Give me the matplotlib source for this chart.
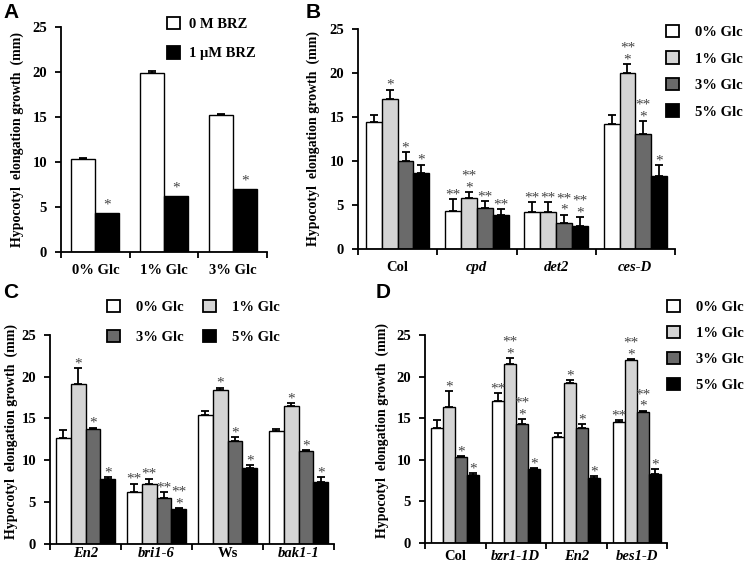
import numpy as np
import matplotlib
matplotlib.use("Agg")
import matplotlib.pyplot as plt
import matplotlib.transforms as mtransforms
from matplotlib.patches import Patch

# ------------------------------------------------------------
# DATA
# ------------------------------------------------------------

# Panel A: BRZ treatment
a_groups = ["0% Glc", "1% Glc", "3% Glc"]
a_no_brz = [10.3, 19.9, 15.2]
a_no_brz_err = [0.1, 0.25, 0.15]
a_brz = [4.3, 6.2, 7.0]
a_brz_err = [0.05, 0.05, 0.05]
a_brz_stars = ["*", "*", "*"]

glc_labels = ["0% Glc", "1% Glc", "3% Glc", "5% Glc"]

# Panel B
b_groups = ["Col", "cpd", "det2", "ces-D"]
b_italic = [False, True, True, True]
b_vals = [
    [14.4, 4.35, 4.25, 14.15],
    [17.0, 5.8, 4.25, 19.95],
    [10.0, 4.65, 2.9, 13.1],
    [8.6, 3.9, 2.6, 8.35],
]
b_errs = [
    [0.8, 1.3, 1.05, 1.1],
    [1.1, 0.7, 1.05, 1.1],
    [1.0, 0.75, 1.0, 1.45],
    [1.0, 0.6, 1.0, 1.2],
]
b_stars = [
    ["", "**", "**", ""],
    ["*", "**\n*", "**", "**\n*"],
    ["*", "**", "**\n*", "**\n*"],
    ["*", "**", "**\n*", "*"],
]

# Panel C
c_groups = ["En2", "bri1-6", "Ws", "bak1-1"]
c_italic = [True, True, False, True]
c_vals = [
    [12.7, 6.2, 15.45, 13.45],
    [19.15, 7.1, 18.4, 16.5],
    [13.75, 5.5, 12.3, 11.1],
    [7.75, 4.2, 9.1, 7.35],
]
c_errs = [
    [0.95, 1.0, 0.5, 0.25],
    [1.9, 0.7, 0.3, 0.3],
    [0.15, 0.65, 0.5, 0.15],
    [0.2, 0.1, 0.3, 0.6],
]
c_stars = [
    ["", "**", "", ""],
    ["*", "**", "*", "*"],
    ["*", "**", "*", "*"],
    ["*", "**\n*", "*", "*"],
]

# Panel D
d_groups = ["Col", "bzr1-1D", "En2", "bes1-D"]
d_italic = [False, True, True, True]
d_vals = [
    [13.8, 17.1, 12.7, 14.5],
    [16.3, 21.5, 19.2, 21.95],
    [10.3, 14.25, 13.8, 15.75],
    [8.15, 8.9, 7.75, 8.3],
]
d_errs = [
    [0.95, 0.9, 0.45, 0.3],
    [1.9, 0.7, 0.4, 0.15],
    [0.15, 0.65, 0.5, 0.15],
    [0.2, 0.1, 0.3, 0.55],
]
d_stars = [
    ["", "**", "", "**"],
    ["*", "**\n*", "*", "**\n*"],
    ["*", "**\n*", "*", "**\n*"],
    ["*", "*", "*", "*"],
]

# ------------------------------------------------------------
# STYLE
# ------------------------------------------------------------
SERIF = "Liberation Serif"
FS = 10.5
glc_colors = ["white", "#d4d4d4", "#6a6a6a", "black"]
star_color = "#444444"

plt.rcParams["font.family"] = SERIF
plt.rcParams["font.weight"] = "bold"

fig = plt.figure(figsize=(7.44, 5.67), dpi=100)
W, H = 744, 567


def px_axes(x0, y0, x1, y1):
    return fig.add_axes([x0 / W, 1 - y1 / H, (x1 - x0) / W, (y1 - y0) / H])


def style_axes(ax, groups, italic, label_x, label_y, xpad):
    n = len(groups)
    ax.set_xlim(0, n)
    ax.set_ylim(0, 25)
    ax.set_yticks(range(0, 26, 5))
    for s in ["top", "right"]:
        ax.spines[s].set_visible(False)
    for s in ["left", "bottom"]:
        ax.spines[s].set_linewidth(1.3)
    ax.tick_params(axis="y", direction="out", length=4, width=1.3,
                   labelsize=FS, pad=6)
    # group labels at centres, tick marks at boundaries
    ax.set_xticks(np.arange(n) + 0.5)
    ax.set_xticklabels(groups, fontsize=FS, fontweight="bold")
    for lab, it in zip(ax.get_xticklabels(), italic):
        if it:
            lab.set_fontstyle("italic")
    ax.tick_params(axis="x", which="major", length=0, pad=xpad)
    ax.set_xticks(np.arange(n + 1), minor=True)
    ax.tick_params(axis="x", which="minor", direction="out", length=4, width=1.3)
    for lab in ax.get_yticklabels():
        lab.set_fontweight("bold")
    ax.set_ylabel("Hypocotyl  elongation growth  (mm)", fontsize=10,
                  fontweight="bold")
    tr = mtransforms.blended_transform_factory(fig.transFigure, ax.transAxes)
    ax.yaxis.set_label_coords(label_x / W, label_y, transform=tr)


def add_stars(ax, x, top, label, base=0.5):
    rows = label.split("\n")
    for i, row in enumerate(reversed(rows)):
        ax.annotate(row, (x, top), xytext=(0, base + i * 8.5),
                    textcoords="offset points", ha="center", va="baseline",
                    fontsize=11, color=star_color, fontweight="normal")


def grouped_panel(ax, vals, errs, stars, width):
    n_series = len(vals)
    n_groups = len(vals[0])
    centers = np.arange(n_groups) + 0.5
    for k in range(n_series):
        x = centers + (k - (n_series - 1) / 2) * width
        ax.bar(x, vals[k], width, color=glc_colors[k], edgecolor="black",
               linewidth=1.0, zorder=2)
        ax.errorbar(x, vals[k], yerr=[np.zeros(n_groups), errs[k]], fmt="none",
                    ecolor="black", elinewidth=1.3, capsize=3, capthick=1.3,
                    zorder=1)
        for xi, v, e, s in zip(x, vals[k], errs[k], stars[k]):
            if s:
                add_stars(ax, xi, v + e, s)


legend_kw = dict(loc="upper left", frameon=False, borderpad=0,
                 borderaxespad=0, handlelength=0.9, handleheight=0.9,
                 prop={"family": SERIF, "weight": "bold", "size": FS})

# ------------------------------------------------------------
# PANEL A
# ------------------------------------------------------------
axA = px_axes(61, 27, 267, 252)
style_axes(axA, a_groups, [False] * 3, 24, 0.5, 9)
wA = 0.35
xa = np.arange(len(a_groups)) + 0.5
axA.bar(xa - wA / 2, a_no_brz, wA, color="white", edgecolor="black",
        linewidth=1.0, zorder=2)
axA.errorbar(xa - wA / 2, a_no_brz, yerr=[np.zeros(3), a_no_brz_err],
             fmt="none", ecolor="black", elinewidth=1.3, capsize=3,
             capthick=1.3, zorder=1)
axA.bar(xa + wA / 2, a_brz, wA, color="black", edgecolor="black",
        linewidth=1.0, zorder=2)
for xi, v, e, s in zip(xa + wA / 2, a_brz, a_brz_err, a_brz_stars):
    add_stars(axA, xi, v + e, s, base=3.0)
axA.legend([Patch(facecolor="white", edgecolor="black", linewidth=1.3),
            Patch(facecolor="black", edgecolor="black", linewidth=1.3)],
           ["0 M BRZ", "1 \u03bcM BRZ"],
           bbox_to_anchor=(167 / W, 1 - 17 / H),
           bbox_transform=fig.transFigure, handletextpad=0.6,
           labelspacing=1.05, **legend_kw)

# ------------------------------------------------------------
# PANEL B
# ------------------------------------------------------------
axB = px_axes(358, 29, 675, 249)
style_axes(axB, b_groups, b_italic, 320, 0.5, 9)
grouped_panel(axB, b_vals, b_errs, b_stars, 0.2)
glc_handles = [Patch(facecolor=c, edgecolor="black", linewidth=1.3)
               for c in glc_colors]
fig.legend(glc_handles, glc_labels, bbox_to_anchor=(666 / W, 1 - 25 / H),
           handletextpad=1.1, labelspacing=0.85, **legend_kw)

# ------------------------------------------------------------
# PANEL C
# ------------------------------------------------------------
axC = px_axes(50, 335, 334, 543.7)
style_axes(axC, c_groups, c_italic, 18, 0.54, 2.5)
grouped_panel(axC, c_vals, c_errs, c_stars, 0.21)
# row-major order: 0% 1% / 3% 5%
order = [0, 2, 1, 3]
fig.legend([glc_handles[i] for i in order], [glc_labels[i] for i in order],
           ncol=2, bbox_to_anchor=(107 / W, 1 - 300 / H),
           handletextpad=1.1, labelspacing=1.1, columnspacing=1.3,
           **legend_kw)

# ------------------------------------------------------------
# PANEL D
# ------------------------------------------------------------
axD = px_axes(425, 335, 667, 542.7)
style_axes(axD, d_groups, d_italic, 389, 0.54, 5.5)
grouped_panel(axD, d_vals, d_errs, d_stars, 0.2)
fig.legend(glc_handles, glc_labels, bbox_to_anchor=(667 / W, 1 - 300 / H),
           handletextpad=1.1, labelspacing=0.82, **legend_kw)

# panel letters
for lab, (x, y) in zip("ABCD", [(3, 3), (306, 3), (3, 283), (376, 283)]):
    fig.text(x / W, 1 - y / H, lab, fontsize=15, fontweight="bold",
             family="Liberation Sans", ha="left", va="top")

fig.savefig("out.png", dpi=100)
